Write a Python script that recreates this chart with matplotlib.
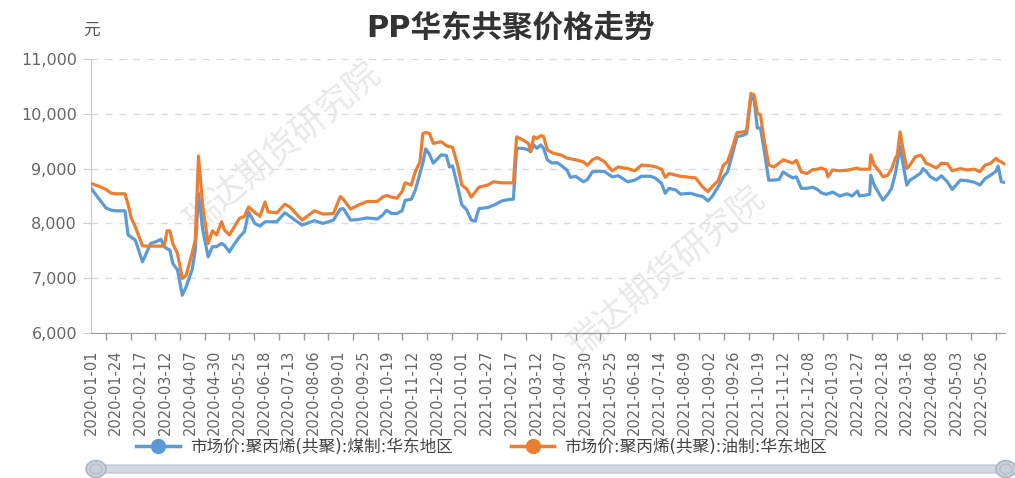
import numpy as np
import pandas as pd
import matplotlib
matplotlib.use("Agg")
import matplotlib.pyplot as plt
from matplotlib.lines import Line2D
from matplotlib.patches import FancyBboxPatch, Ellipse

plt.rcParams['font.family'] = ['DejaVu Sans', 'Noto Sans CJK SC']

# category labels shown on the x axis
tick_labels = [
    "2020-01-01", "2020-01-24", "2020-02-17", "2020-03-12", "2020-04-07", "2020-04-30",
    "2020-05-25", "2020-06-18", "2020-07-13", "2020-08-06", "2020-09-01", "2020-09-25",
    "2020-10-19", "2020-11-12", "2020-12-08", "2021-01-01", "2021-01-27", "2021-02-17",
    "2021-03-12", "2021-04-07", "2021-04-30", "2021-05-25", "2021-06-18", "2021-07-14",
    "2021-08-09", "2021-09-02", "2021-09-26", "2021-10-19", "2021-11-12", "2021-12-08",
    "2022-01-03", "2022-01-27", "2022-02-18", "2022-03-16", "2022-04-08", "2022-05-03",
    "2022-05-26",
]

# values (yuan/ton)
dates = [
    "2020-01-01", "2020-01-08", "2020-01-15", "2020-01-20", "2020-01-24", "2020-02-02",
    "2020-02-05", "2020-02-08", "2020-02-12", "2020-02-19", "2020-02-24", "2020-02-27",
    "2020-03-03", "2020-03-08", "2020-03-11", "2020-03-14", "2020-03-17", "2020-03-20",
    "2020-03-25", "2020-03-30", "2020-04-03", "2020-04-09", "2020-04-12", "2020-04-15",
    "2020-04-19", "2020-04-24", "2020-04-28", "2020-05-02", "2020-05-07", "2020-05-10",
    "2020-05-15", "2020-05-19", "2020-05-25", "2020-05-30", "2020-06-03", "2020-06-09",
    "2020-06-14", "2020-06-19", "2020-06-22", "2020-07-01", "2020-07-09", "2020-07-14",
    "2020-07-19", "2020-07-26", "2020-08-07", "2020-08-16", "2020-08-27", "2020-09-03",
    "2020-09-06", "2020-09-13", "2020-09-20", "2020-09-29", "2020-10-09", "2020-10-14",
    "2020-10-18", "2020-10-23", "2020-10-28", "2020-11-02", "2020-11-05", "2020-11-11",
    "2020-11-15", "2020-11-20", "2020-11-23", "2020-11-26", "2020-11-30", "2020-12-04",
    "2020-12-12", "2020-12-17", "2020-12-20", "2020-12-23", "2020-12-28", "2021-01-01",
    "2021-01-06", "2021-01-11", "2021-01-15", "2021-01-19", "2021-01-28", "2021-02-02",
    "2021-02-09", "2021-02-16", "2021-02-19", "2021-02-22", "2021-02-28", "2021-03-05",
    "2021-03-07", "2021-03-10", "2021-03-13", "2021-03-17", "2021-03-20", "2021-03-24",
    "2021-03-29", "2021-04-03", "2021-04-07", "2021-04-13", "2021-04-16", "2021-04-21",
    "2021-04-28", "2021-05-02", "2021-05-07", "2021-05-12", "2021-05-19", "2021-05-27",
    "2021-06-02", "2021-06-11", "2021-06-18", "2021-06-25", "2021-07-05", "2021-07-10",
    "2021-07-16", "2021-07-20", "2021-07-24", "2021-07-31", "2021-08-05", "2021-08-15",
    "2021-08-20", "2021-08-27", "2021-09-01", "2021-09-05", "2021-09-11", "2021-09-16",
    "2021-09-20", "2021-09-25", "2021-09-29", "2021-10-05", "2021-10-08", "2021-10-12",
    "2021-10-15", "2021-10-18", "2021-10-21", "2021-10-24", "2021-10-29", "2021-11-03",
    "2021-11-08", "2021-11-12", "2021-11-17", "2021-11-22", "2021-11-26", "2021-12-01",
    "2021-12-07", "2021-12-13", "2021-12-18", "2021-12-22", "2021-12-27", "2021-12-29",
    "2022-01-03", "2022-01-10", "2022-01-17", "2022-01-22", "2022-01-27", "2022-01-29",
    "2022-02-07", "2022-02-08", "2022-02-11", "2022-02-16", "2022-02-19", "2022-02-24",
    "2022-02-28", "2022-03-04", "2022-03-06", "2022-03-09", "2022-03-11", "2022-03-16",
    "2022-03-19", "2022-03-24", "2022-03-29", "2022-03-31", "2022-04-03", "2022-04-07",
    "2022-04-13", "2022-04-18", "2022-04-24", "2022-04-29", "2022-05-07", "2022-05-13",
    "2022-05-20", "2022-05-25", "2022-05-30", "2022-06-04", "2022-06-09", "2022-06-11",
    "2022-06-14", "2022-06-17",
]

coal_pp = [
    8640, 8460, 8280, 8240, 8230, 8230, 7790, 7750, 7695, 7300, 7510, 7635,
    7665, 7710, 7575, 7540, 7510, 7270, 7150, 6690, 6840, 7150, 7510, 8550,
    7880, 7390, 7575, 7575, 7635, 7600, 7480, 7600, 7750, 7850, 8210, 8000,
    7950, 8030, 8030, 8030, 8195, 8130, 8060, 7970, 8050, 8000, 8060, 8260,
    8270, 8060, 8070, 8100, 8080, 8150, 8240, 8180, 8180, 8230, 8420, 8440,
    8600, 8910, 9100, 9360, 9260, 9100, 9250, 9240, 9030, 9050, 8670, 8340,
    8250, 8060, 8040, 8270, 8290, 8330, 8410, 8440, 8440, 9370, 9370, 9340,
    9310, 9430, 9370, 9430, 9370, 9160, 9100, 9110, 9065, 8970, 8840, 8860,
    8760, 8800, 8940, 8950, 8950, 8850, 8870, 8760, 8790, 8860, 8860, 8820,
    8730, 8550, 8640, 8610, 8535, 8550, 8520, 8490, 8410, 8490, 8670, 8850,
    8940, 9280, 9580, 9610, 9640, 10310, 10250, 9740, 9740, 9400, 8790, 8790,
    8800, 8940, 8880, 8830, 8850, 8640, 8640, 8660, 8620, 8560, 8530, 8540,
    8570, 8500, 8540, 8500, 8590, 8500, 8530, 8880, 8700, 8520, 8425, 8530,
    8640, 8910, 9100, 9400, 9190, 8700, 8790, 8850, 8920, 9000, 8950, 8850,
    8790, 8870, 8760, 8620, 8790, 8780, 8750, 8700, 8820, 8880, 8950, 9046,
    8760, 8750,
]

oil_pp = [
    8730, 8680, 8620, 8550, 8540, 8540, 8350, 8100, 7940, 7590, 7585, 7585,
    7585, 7585, 7585, 7865, 7865, 7635, 7450, 6995, 7050, 7450, 7695, 9230,
    8300, 7635, 7865, 7790, 8030, 7880, 7790, 7910, 8090, 8130, 8300, 8200,
    8130, 8390, 8210, 8195, 8350, 8300, 8200, 8060, 8230, 8170, 8180, 8490,
    8440, 8260, 8330, 8400, 8400, 8480, 8510, 8480, 8460, 8580, 8740, 8700,
    8940, 9125, 9640, 9660, 9640, 9460, 9490, 9420, 9400, 9390, 9060, 8700,
    8630, 8480, 8570, 8660, 8700, 8760, 8740, 8740, 8740, 9580, 9520, 9460,
    9310, 9580, 9550, 9600, 9590, 9340, 9290, 9265, 9250, 9190, 9180, 9160,
    9125, 9060, 9160, 9200, 9130, 8960, 9030, 9000, 8960, 9065, 9050, 9030,
    8990, 8840, 8910, 8880, 8860, 8840, 8830, 8660, 8580, 8670, 8780, 9065,
    9125, 9400, 9656, 9670, 9690, 10370, 10345, 10010, 9980, 9580, 9065, 9030,
    9100, 9160, 9130, 9100, 9150, 8940, 8910, 8980, 8990, 9010, 8975, 8850,
    8975, 8960, 8970, 8990, 9010, 8990, 8990, 9250, 9065, 8940, 8850, 8880,
    8990, 9190, 9250, 9670, 9460, 9000, 9065, 9216, 9247, 9200, 9096, 9065,
    9010, 9096, 9090, 8960, 9000, 8975, 8990, 8943, 9065, 9096, 9187, 9150,
    9120, 9083,
]

series_names = ["市场价:聚丙烯(共聚):煤制:华东地区", "市场价:聚丙烯(共聚):油制:华东地区"]
colors = ["#5B9BD5", "#ED7D31"]


def day_num(strs):
    return pd.to_datetime(strs).values.astype("datetime64[D]").astype(float)


# map dates onto the evenly spaced category axis
tick_d = day_num(tick_labels)
tick_i = np.arange(len(tick_labels), dtype=float)
d = day_num(dates)
xpos = np.interp(d, tick_d, tick_i)
late = d > tick_d[-1]
xpos[late] = tick_i[-1] + (d[late] - tick_d[-1]) / (tick_d[-1] - tick_d[-2])

fig = plt.figure(figsize=(10.15, 4.78), dpi=100)

# bottom slider decoration
sk = fig.add_axes([0, 0, 1, 1], zorder=-1)
sk.set_xlim(0, 1015)
sk.set_ylim(478, 0)
sk.axis("off")
sk.add_patch(FancyBboxPatch((92, 465), 912, 8, boxstyle="round,pad=0,rounding_size=4",
                            facecolor="#d3d9e2", edgecolor="#b8c0cc", lw=0.8))
for cx in (96, 1006):
    sk.add_patch(Ellipse((cx, 469), 20, 17, facecolor="#c8cfd9", edgecolor="#a9b2bf", lw=1))
    sk.add_patch(Ellipse((cx, 469), 12, 10, facecolor="none", edgecolor="#b5bdc8", lw=0.8))

ax = fig.add_axes([91 / 1015, 145 / 478, 914 / 1015, 274 / 478])
ax.patch.set_visible(False)

# watermarks
for wx, wy in ((283, 148), (667, 272)):
    ax.text(wx / 1015, 1 - wy / 478, "瑞达期货研究院", transform=fig.transFigure,
            fontsize=25, color="#e8e8e8", rotation=40, ha="center", va="center",
            family=["Noto Sans CJK SC", "DejaVu Sans"], zorder=0)

ax.plot(xpos, coal_pp, color=colors[0], lw=2.3, zorder=3, solid_joinstyle="round")
ax.plot(xpos, oil_pp, color=colors[1], lw=2.3, zorder=4, solid_joinstyle="round")

ax.set_ylim(6000, 11000)
ax.set_xlim(0, 914 / 24.72)
ax.set_yticks(np.arange(6000, 11001, 1000))
ax.set_yticklabels([f"{v:,}" for v in range(6000, 11001, 1000)])
ax.grid(axis="y", color="#dadada", lw=1, linestyle=(0, (5, 5)))

ax.set_xticks(tick_i)
ax.set_xticklabels(tick_labels, rotation=90, fontsize=10.5, color="#666666")
ax.set_xticks(tick_i + 0.6, minor=True)
ax.tick_params(axis="x", which="major", length=0, pad=12)
ax.tick_params(axis="x", which="minor", length=5, color="#999999", width=1)
ax.tick_params(axis="y", length=6, color="#cccccc", labelsize=11.5, labelcolor="#666666", pad=4)

for s in ("top", "right"):
    ax.spines[s].set_visible(False)
ax.spines["left"].set_color("#cccccc")
ax.spines["bottom"].set_color("#999999")

fig.text(510 / 1015, 1 - 28 / 478, "PP华东共聚价格走势", fontsize=22, fontweight="bold",
         color="#333333", ha="center", va="center")
fig.text(92 / 1015, 1 - 30 / 478, "元", fontsize=12, color="#555555", ha="center", va="center",
         family=["Noto Sans CJK SC", "DejaVu Sans"])

handles = [Line2D([], [], color=c, lw=2.5, marker="o", markersize=10,
                  markerfacecolor=c, markeredgecolor=c) for c in colors]
fig.legend(handles, series_names, loc="center left", bbox_to_anchor=(128 / 1015, 1 - 447 / 478),
           ncol=2, frameon=False, fontsize=12, handlelength=2.6, handletextpad=0.6,
           columnspacing=3.5, labelcolor="#444444", borderpad=0)

fig.savefig("out.png", dpi=100)
